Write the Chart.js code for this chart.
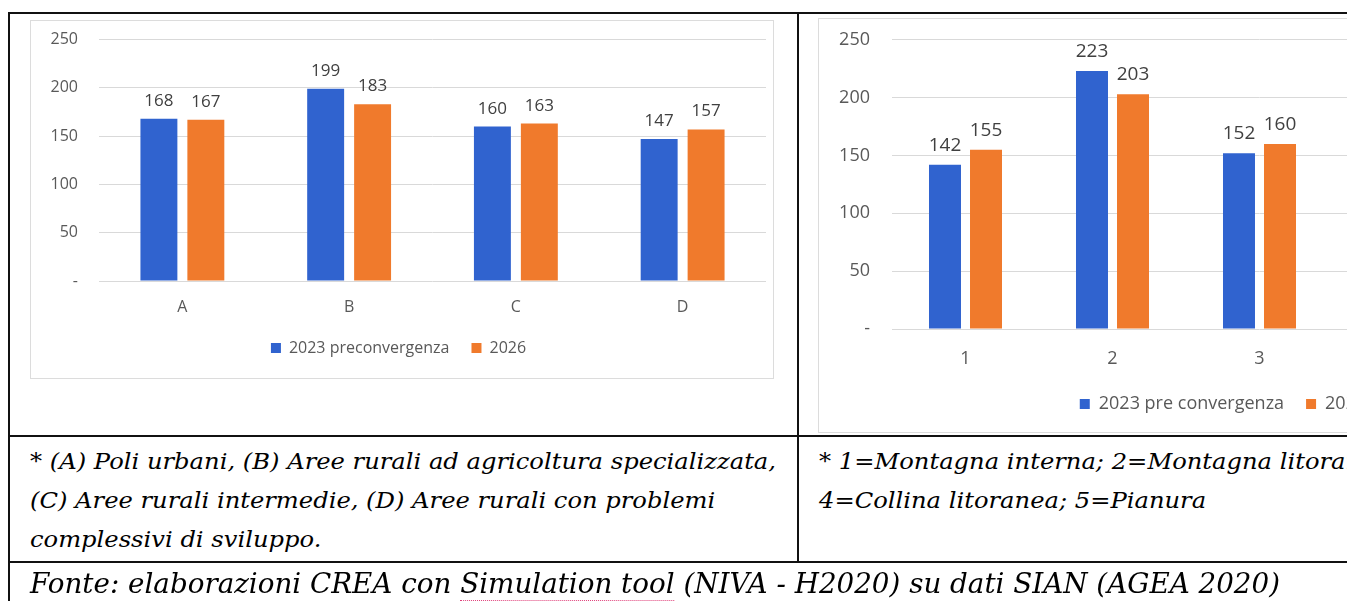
<!DOCTYPE html>
<html><head><meta charset="utf-8">
<script src="https://cdn.jsdelivr.net/npm/chart.js@4.4.1/dist/chart.umd.min.js"></script>
<style>
html,body{margin:0;padding:0;width:1347px;height:601px;overflow:hidden;background:#fff;position:relative;}
.ln{position:absolute;background:#111;}
.box{position:absolute;border:1px solid #dcdcdc;background:#fff;}
canvas{position:absolute;display:block;}
.txt{position:absolute;font-family:"DejaVu Serif",serif;font-style:italic;color:#000;white-space:nowrap;transform-origin:0 50%;line-height:1;}
.sp{border-bottom:1px dotted #e0407a;}
</style></head><body>
<div class="box" style="left:30px;top:20px;width:742px;height:357px;"></div>
<div class="box" style="left:818px;top:18px;width:830px;height:413px;"></div>
<canvas id="c1" width="742" height="357" style="left:31px;top:9px;"></canvas>
<canvas id="c2" width="830" height="416" style="left:819px;top:7px;"></canvas>

<div class="ln" style="left:9px;top:12px;width:1338px;height:2px;"></div>
<div class="ln" style="left:8px;top:12px;width:2px;height:589px;"></div>
<div class="ln" style="left:797px;top:12px;width:2px;height:551px;"></div>
<div class="ln" style="left:9px;top:435px;width:1338px;height:2px;"></div>
<div class="ln" style="left:9px;top:561px;width:1338px;height:2px;"></div>

<div class="txt f1" data-w="746" style="left:30px;top:451px;font-size:22px;">* (A) Poli urbani, (B) Aree rurali ad agricoltura specializzata,</div>
<div class="txt f1" style="left:30px;top:490px;font-size:22px;">(C) Aree rurali intermedie, (D) Aree rurali con problemi</div>
<div class="txt f1" style="left:30px;top:529px;font-size:22px;">complessivi di sviluppo.</div>
<div class="txt f1" style="left:819px;top:451px;font-size:22px;">* 1=Montagna interna; 2=Montagna litoranea; 3=Collina interna;</div>
<div class="txt f1" style="left:819px;top:490px;font-size:22px;">4=Collina litoranea; 5=Pianura</div>
<div class="txt f2" data-w="1250" style="left:30px;top:570px;font-size:28px;">Fonte: elaborazioni CREA con <span class="sp">Simulation tool</span> (NIVA - H2020) su dati SIAN (AGEA 2020)</div>

<script>
// ---- data ----
const catsLeft = ['A', 'B', 'C', 'D'];
const left2023 = [168, 199, 160, 147];
const left2026 = [167, 183, 163, 157];
const catsRight = ['1', '2', '3', '4', '5'];
const right2023 = [142, 223, 152, null, null];
const right2026 = [155, 203, 160, null, null];
const namesLeft = ['2023 preconvergenza', '2026'];
const namesRight = ['2023 pre convergenza', '2026'];
const yTickValues = [0, 50, 100, 150, 200, 250];

// ---- text fitting ----
function fit(cls, target) {
  const els = document.querySelectorAll('.' + cls);
  const ref = document.querySelector('.' + cls + '[data-w]');
  const k = target / ref.getBoundingClientRect().width;
  els.forEach(e => e.style.transform = 'scaleX(' + k + ')');
}
fit('f1', 746);
fit('f2', 1250);

// ---- charts ----
const BLUE = '#3063cf';
const ORANGE = '#f07a2c';

const valueLabels = {
  id: 'valueLabels',
  afterDatasetsDraw(chart, args, opts) {
    const ctx = chart.ctx;
    ctx.save();
    ctx.font = opts.size + 'px "Open Sans"';
    ctx.fillStyle = opts.color;
    ctx.textAlign = 'center';
    ctx.textBaseline = 'alphabetic';
    chart.data.datasets.forEach((ds, i) => {
      const meta = chart.getDatasetMeta(i);
      meta.data.forEach((el, j) => {
        const v = ds.data[j];
        if (v == null) return;
        ctx.fillText(String(v), el.x, el.y - opts.offset);
      });
    });
    ctx.restore();
  }
};

function makeChart(id, cats, a, b, names, cfg) {
  return new Chart(document.getElementById(id), {
    type: 'bar',
    data: {
      labels: cats,
      datasets: [
        { label: names[0], data: a, backgroundColor: BLUE, categoryPercentage: cfg.cat, barPercentage: cfg.bar },
        { label: names[1], data: b, backgroundColor: ORANGE, categoryPercentage: cfg.cat, barPercentage: cfg.bar }
      ]
    },
    options: {
      responsive: false,
      animation: false,
      layout: { padding: { top: cfg.top, right: cfg.right, left: 0, bottom: 0 } },
      scales: {
        x: {
          grid: { display: false, drawTicks: false },
          border: { display: false },
          ticks: { color: '#595959', font: { family: 'Open Sans', size: cfg.tick }, padding: cfg.xpad },
          afterFit: s => { s.height = cfg.xh; }
        },
        y: {
          min: 0, max: 250,
          afterBuildTicks: s => { s.ticks = yTickValues.map(v => ({ value: v })); },
          grid: { color: '#d9d9d9', drawTicks: false, lineWidth: 1 },
          border: { display: false },
          ticks: { color: '#595959', font: { family: 'Open Sans', size: cfg.tick }, padding: cfg.ypad,
                   callback: v => v === 0 ? '-' : String(v) },
          afterFit: s => { s.width = cfg.yw; }
        }
      },
      plugins: {
        tooltip: { enabled: false },
        legend: {
          position: 'bottom',
          labels: { color: '#595959', font: { family: 'Open Sans', size: cfg.leg }, boxWidth: 10, boxHeight: 10, padding: 22 }
        },
        valueLabels: { size: cfg.val, color: '#404040', offset: cfg.voff }
      }
    },
    plugins: [valueLabels]
  });
}

makeChart('c1', catsLeft, left2023, left2026, namesLeft,
  { cat: 0.563, bar: 0.787, top: 4, right: 7, xh: 37, yw: 68, ypad: 21, xpad: 17, tick: 16, leg: 16, val: 17, voff: 13 });
makeChart('c2', catsRight, right2023, right2026, namesRight,
  { cat: 0.558, bar: 0.78, top: 7, right: 22, xh: 44, yw: 73, ypad: 22, xpad: 19, tick: 18, leg: 18, val: 19, voff: 14 });
</script>
</body></html>
